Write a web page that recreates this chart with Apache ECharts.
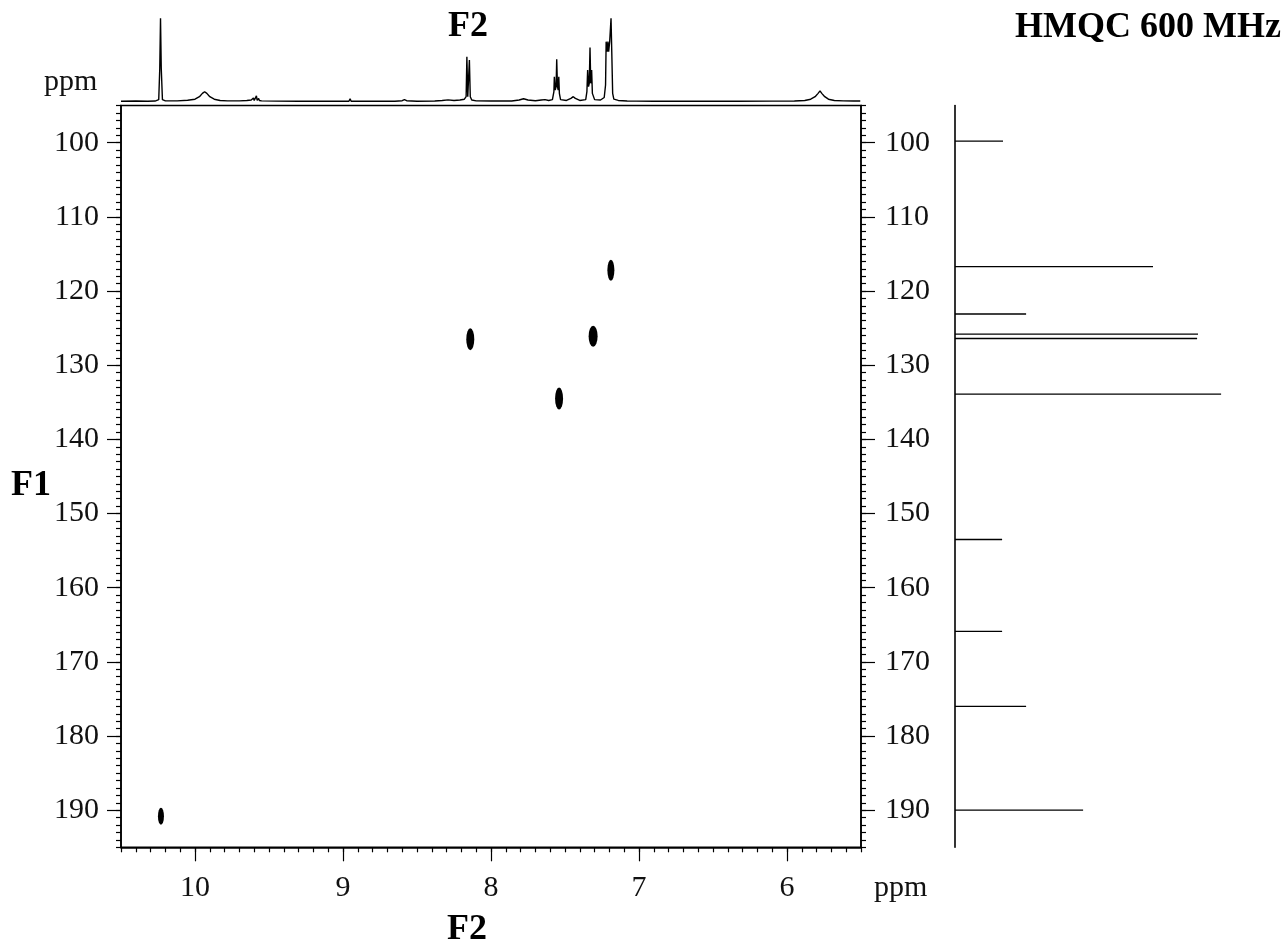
<!DOCTYPE html>
<html>
<head>
<meta charset="utf-8">
<script src="https://cdn.jsdelivr.net/npm/echarts@6/dist/echarts.min.js"></script>
<style>
html,body{margin:0;padding:0;background:#fff;}
#chart{width:1285px;height:949px;}
</style>
</head>
<body>
<div id="chart"></div>
<script>
// ---------- DATA ----------
// 1H projection (F2): [ppm, relative intensity]
const protonTrace = [
  [10.50,0.6],[10.40,0.8],[10.32,0.6],[10.27,0.8],[10.245,2.5],[10.238,40],[10.233,100],[10.228,40],[10.22,2.5],
  [10.20,1],[10.12,1],[10.05,1.8],[10.00,3],[9.97,6],[9.95,10],[9.935,12],[9.92,10],[9.90,6],[9.87,3],[9.83,1.5],
  [9.78,1],[9.70,1],[9.65,1.5],[9.62,2],[9.605,4.5],[9.60,1.5],[9.585,7],[9.58,1.5],[9.57,4],[9.565,1.5],[9.55,1],
  [9.45,0.7],[9.30,0.5],[9.10,0.5],[8.96,0.5],[8.952,3.5],[8.945,0.5],[8.80,0.5],[8.65,0.6],[8.60,1.2],[8.585,2.5],
  [8.57,1.2],[8.50,0.6],[8.38,0.8],[8.33,1.5],[8.29,2.2],[8.25,1.5],[8.21,2],[8.18,3],[8.168,6],[8.163,54],[8.157,6],
  [8.152,6],[8.146,50],[8.14,6],[8.13,2],[8.10,1],[8.00,0.8],[7.86,0.8],[7.81,2],[7.78,3.5],[7.75,2],[7.70,1.2],
  [7.66,2],[7.635,2.5],[7.61,1.5],[7.585,2.5],[7.575,12],[7.572,30],[7.566,14],[7.56,18],[7.556,51],[7.551,18],
  [7.546,14],[7.542,30],[7.538,10],[7.53,2.5],[7.49,1.5],[7.46,4],[7.444,6],[7.43,4],[7.40,1.5],[7.36,2.5],
  [7.352,12],[7.347,38],[7.341,18],[7.336,22],[7.331,65],[7.326,22],[7.32,38],[7.315,10],[7.30,2.5],[7.26,2],
  [7.235,5],[7.226,20],[7.222,72],[7.215,60],[7.21,72],[7.205,60],[7.198,72],[7.193,70],[7.189,100],[7.184,60],
  [7.178,10],[7.17,3],[7.14,1.5],[7.08,0.8],[7.02,0.7],[7.016,2.5],[7.01,0.7],[6.90,0.6],[6.70,0.6],[6.54,0.6],
  [6.53,2.5],[6.52,0.6],[6.35,0.6],[6.10,0.7],[5.95,0.8],[5.88,1.5],[5.84,3],[5.81,6],[5.79,10],[5.777,13],
  [5.765,10],[5.745,6],[5.72,3],[5.68,1.5],[5.62,1],[5.55,0.8],[5.505,0.8]
];

// HMQC cross peaks
const crossPeakF2 = [10.23, 7.19, 8.14, 7.31, 7.54];
const crossPeakF1 = [190.8, 117.2, 126.5, 126.1, 134.5];

// 13C projection (F1)
const carbonShift = [99.8, 116.7, 123.1, 125.8, 126.4, 133.9, 153.5, 165.9, 176.0, 190.0];
const carbonIntensity = [16, 66, 23.7, 81, 80.7, 88.7, 15.7, 15.7, 23.7, 42.7];

// tick labels
const f2Ticks = [6, 7, 8, 9, 10];
const f1Ticks = [100, 110, 120, 130, 140, 150, 160, 170, 180, 190];

// ---------- STYLE ----------
const FONT = '"Liberation Serif", "Times New Roman", serif';
const INK = '#000';
const peakSymbolSize = [[6,17],[7,21],[8,22],[9,21],[8,22]];

const chart = echarts.init(document.getElementById('chart'), null, {renderer: 'canvas'});

const tickStyle = {color: INK, width: 1.2};
const labelStyle = {fontSize: 30, fontFamily: FONT, color: '#111'};

const option = {
  animation: false,
  backgroundColor: '#fff',
  grid: [
    {left: 121, top: 105.6, width: 740, height: 741.7, show: true, borderColor: INK, borderWidth: 1.5, backgroundColor: 'transparent', outerBoundsMode: 'none'},
    {left: 121, top: 18.3, width: 740, height: 83.4, outerBoundsMode: 'none'},
    {left: 955, top: 105.6, width: 300, height: 741.7, outerBoundsMode: 'none'}
  ],
  xAxis: [
    {gridIndex: 0, type: 'value', min: 5.5, max: 10.5, inverse: true, interval: 0.1, position: 'bottom',
     axisLine: {show: true, onZero: false, lineStyle: {color: INK, width: 1.6}},
     axisTick: {show: true, length: 5, lineStyle: tickStyle},
     axisLabel: {show: false}, splitLine: {show: false}},
    {gridIndex: 0, type: 'value', min: 5.5, max: 10.5, inverse: true, position: 'bottom',
     axisLine: {show: false},
     axisTick: {show: true, length: 14, customValues: f2Ticks, lineStyle: tickStyle},
     axisLabel: Object.assign({show: true, customValues: f2Ticks, margin: 26}, labelStyle),
     splitLine: {show: false}},
    {gridIndex: 1, type: 'value', min: 5.5, max: 10.5, inverse: true, show: false},
    {gridIndex: 2, type: 'value', min: 0, max: 100, show: false}
  ],
  yAxis: [
    {gridIndex: 0, type: 'value', min: 95, max: 195, inverse: true, interval: 1, position: 'left',
     axisLine: {show: true, onZero: false, lineStyle: {color: INK, width: 1.6}},
     axisTick: {show: true, length: 5, lineStyle: tickStyle},
     axisLabel: {show: false}, splitLine: {show: false}},
    {gridIndex: 0, type: 'value', min: 95, max: 195, inverse: true, position: 'left',
     axisLine: {show: false},
     axisTick: {show: true, length: 14, customValues: f1Ticks, lineStyle: tickStyle},
     axisLabel: Object.assign({show: true, customValues: f1Ticks, margin: 22}, labelStyle),
     splitLine: {show: false}},
    {gridIndex: 0, type: 'value', min: 95, max: 195, inverse: true, interval: 1, position: 'right',
     axisLine: {show: true, onZero: false, lineStyle: {color: INK, width: 1.6}},
     axisTick: {show: true, length: 5, lineStyle: tickStyle},
     axisLabel: {show: false}, splitLine: {show: false}},
    {gridIndex: 0, type: 'value', min: 95, max: 195, inverse: true, position: 'right',
     axisLine: {show: false},
     axisTick: {show: true, length: 14, customValues: f1Ticks, lineStyle: tickStyle},
     axisLabel: Object.assign({show: true, customValues: f1Ticks, margin: 24}, labelStyle),
     splitLine: {show: false}},
    {gridIndex: 1, type: 'value', min: 0, max: 100, show: false},
    {gridIndex: 2, type: 'value', min: 95, max: 195, inverse: true, position: 'left',
     axisLine: {show: true, onZero: false, lineStyle: {color: INK, width: 1.6}},
     axisTick: {show: false}, axisLabel: {show: false}, splitLine: {show: false}}
  ],
  series: [
    {
      type: 'line', name: '1H', xAxisIndex: 2, yAxisIndex: 4,
      data: protonTrace, showSymbol: false, symbol: 'none',
      lineStyle: {color: INK, width: 1.4}, silent: true
    },
    {
      type: 'scatter', name: 'HMQC', xAxisIndex: 0, yAxisIndex: 0,
      data: crossPeakF2.map((x, i) => [x, crossPeakF1[i]]),
      symbol: 'circle',
      symbolSize: (val, params) => peakSymbolSize[params.dataIndex],
      itemStyle: {color: INK, opacity: 1}
    },
    {
      type: 'custom', name: '13C', xAxisIndex: 3, yAxisIndex: 5,
      data: carbonShift.map((s, i) => [carbonIntensity[i], s]),
      renderItem: function (params, api) {
        const p0 = api.coord([0, api.value(1)]);
        const p1 = api.coord([api.value(0), api.value(1)]);
        return {type: 'line', shape: {x1: p0[0], y1: p0[1], x2: p1[0], y2: p1[1]},
                style: {stroke: INK, lineWidth: 1.3}};
      }
    }
  ],
  graphic: [
    {type: 'text', x: 468, y: 27, style: {text: 'F2', fontSize: 36, fontWeight: 'bold', fontFamily: FONT, fill: INK, align: 'center', verticalAlign: 'middle'}},
    {type: 'text', x: 1281, y: 28, style: {text: 'HMQC 600 MHz', fontSize: 36, fontWeight: 'bold', fontFamily: FONT, fill: INK, align: 'right', verticalAlign: 'middle'}},
    {type: 'text', x: 11, y: 486, style: {text: 'F1', fontSize: 36, fontWeight: 'bold', fontFamily: FONT, fill: INK, align: 'left', verticalAlign: 'middle'}},
    {type: 'text', x: 467, y: 930, style: {text: 'F2', fontSize: 36, fontWeight: 'bold', fontFamily: FONT, fill: INK, align: 'center', verticalAlign: 'middle'}},
    {type: 'text', x: 44, y: 82, style: {text: 'ppm', fontSize: 30, fontFamily: FONT, fill: '#111', align: 'left', verticalAlign: 'middle'}},
    {type: 'text', x: 874, y: 888, style: {text: 'ppm', fontSize: 30, fontFamily: FONT, fill: '#111', align: 'left', verticalAlign: 'middle'}}
  ]
};

chart.setOption(option);
</script>
</body>
</html>
